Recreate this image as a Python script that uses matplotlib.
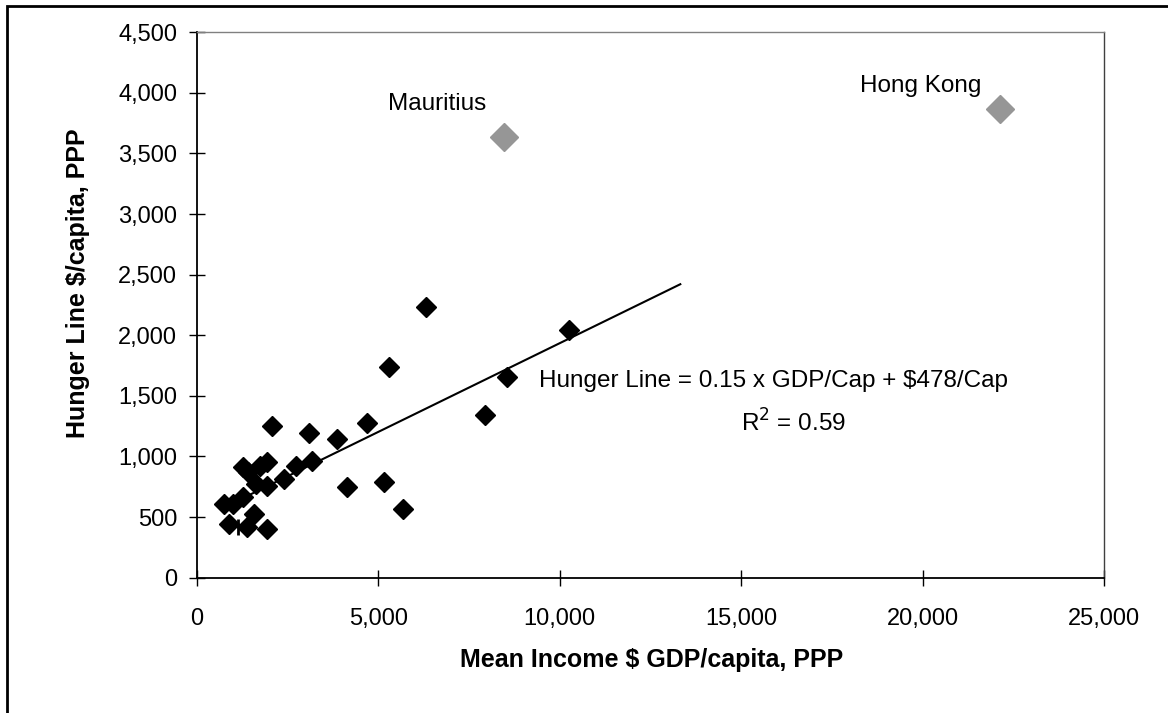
import matplotlib
matplotlib.use("Agg")
import matplotlib.pyplot as plt
from matplotlib.patches import Rectangle
from matplotlib.ticker import FuncFormatter

# ------------------------------------------------------------
# Data
# ------------------------------------------------------------
gdp = [2082, 3093, 3856, 4683, 1284, 1421, 1744, 1945, 2735, 3176,
       2405, 1633, 1945, 1267, 752, 992, 1578, 898, 1394, 1945,
       4132, 5167, 5674, 6316, 5305, 10263, 8539, 7950]
hunger = [1252, 1196, 1142, 1279, 911, 875, 922, 957, 922, 965,
          814, 773, 757, 663, 608, 608, 526, 441, 421, 402,
          746, 787, 567, 2231, 1741, 2044, 1658, 1342]

bar_gdp = [1129]
bar_hunger = [421]

outlier_names = ["Mauritius", "Hong Kong"]
outlier_gdp = [8465, 22127]
outlier_hunger = [3633, 3865]

trend_gdp = [1270, 13322]
trend_hunger = [656, 2421]

x_ticks = [0, 5000, 10000, 15000, 20000, 25000]
y_ticks = [0, 500, 1000, 1500, 2000, 2500, 3000, 3500, 4000, 4500]

plt.rcParams["font.family"] = ["Liberation Sans", "DejaVu Sans"]
FS_TICK = 17
FS_NOTE = 17.5
FS_LABEL = 18

fig = plt.figure(figsize=(11.68, 7.13), dpi=100)
ax = fig.add_axes([0.1684, 0.1898, 0.777, 0.765])

ax.plot(trend_gdp, trend_hunger, color="black", lw=1.5, zorder=2)
ax.plot(gdp, hunger, linestyle="none", marker="D", ms=10,
        color="black", zorder=3)
ax.plot(bar_gdp, bar_hunger, linestyle="none", marker="|", ms=12,
        mew=2, color="black", zorder=3)
ax.plot(outlier_gdp, outlier_hunger, linestyle="none", marker="D", ms=14,
        color="#969696", zorder=3)

ax.annotate(outlier_names[0], (outlier_gdp[0], outlier_hunger[0]),
            xytext=(-116, 22), textcoords="offset pixels",
            fontsize=FS_NOTE, va="bottom", ha="left")
ax.annotate(outlier_names[1], (outlier_gdp[1], outlier_hunger[1]),
            xytext=(-140, 12), textcoords="offset pixels",
            fontsize=FS_NOTE, va="bottom", ha="left")

ax.text(0.377, 0.361, "Hunger Line = 0.15 x GDP/Cap + $478/Cap",
        transform=ax.transAxes, fontsize=FS_NOTE, va="center", ha="left")
ax.text(0.657, 0.283, r"R$^2$ = 0.59", transform=ax.transAxes,
        fontsize=FS_NOTE, va="center", ha="center")

ax.set_xlim(0, 25000)
ax.set_ylim(0, 4500)
ax.set_xticks(x_ticks)
ax.set_yticks(y_ticks)
fmt = FuncFormatter(lambda v, p: f"{int(v):,}")
ax.xaxis.set_major_formatter(fmt)
ax.yaxis.set_major_formatter(fmt)
ax.tick_params(axis="both", direction="inout", length=12, width=1,
               labelsize=FS_TICK)
ax.tick_params(axis="x", pad=16)
ax.tick_params(axis="y", pad=8)

for side in ["left", "bottom"]:
    ax.spines[side].set_color("black")
    ax.spines[side].set_linewidth(1.3)
ax.spines["top"].set_color("#808080")
ax.spines["top"].set_linewidth(1.0)
ax.spines["right"].set_color("#404040")
ax.spines["right"].set_linewidth(1.0)

fig.text(0.5575, 1 - 660 / 713, "Mean Income $ GDP/capita, PPP",
         fontsize=FS_LABEL, fontweight="bold", ha="center", va="center")
fig.text(78 / 1168, 1 - 283 / 713, "Hunger Line $/capita, PPP",
         fontsize=FS_LABEL, fontweight="bold", ha="center", va="center",
         rotation=90)

# outer chart border (runs off the right and bottom edges)
fig.patches.append(Rectangle((7 / 1168, -0.1), 1.2, 1.1 - 6 / 713,
                             transform=fig.transFigure, fill=False,
                             edgecolor="black", lw=2))

fig.savefig("out.png", dpi=100)
